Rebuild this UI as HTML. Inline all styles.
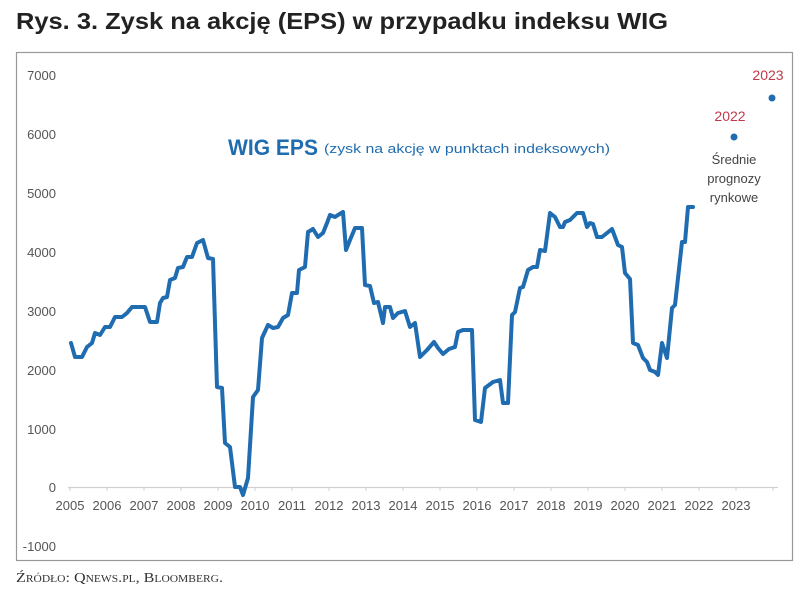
<!DOCTYPE html>
<html><head><meta charset="utf-8"><style>
body{margin:0;background:#fff;}
svg{display:block;}
</style></head><body>
<svg width="803" height="593" viewBox="0 0 803 593" xmlns="http://www.w3.org/2000/svg">
<text x="16" y="29" font-family="Liberation Sans, sans-serif" font-weight="bold" font-size="23" fill="#222" textLength="652" lengthAdjust="spacingAndGlyphs">Rys. 3. Zysk na akcję (EPS) w przypadku indeksu WIG</text>
<rect x="16.5" y="52.5" width="776" height="508" fill="#fff" stroke="#999" stroke-width="1.2"/>
<g font-family="Liberation Sans, sans-serif" font-size="13" fill="#555" text-anchor="end">
<text x="56" y="80">7000</text>
<text x="56" y="139">6000</text>
<text x="56" y="198">5000</text>
<text x="56" y="257">4000</text>
<text x="56" y="316">3000</text>
<text x="56" y="375">2000</text>
<text x="56" y="434">1000</text>
<text x="56" y="492">0</text>
<text x="56" y="551">-1000</text>
</g>
<line x1="68" y1="487.5" x2="778" y2="487.5" stroke="#d0d0d0" stroke-width="1.2"/>
<g stroke="#d0d0d0" stroke-width="1">
<line x1="70" y1="487" x2="70" y2="491"/><line x1="107" y1="487" x2="107" y2="491"/><line x1="144" y1="487" x2="144" y2="491"/><line x1="181" y1="487" x2="181" y2="491"/><line x1="218" y1="487" x2="218" y2="491"/><line x1="255" y1="487" x2="255" y2="491"/><line x1="292" y1="487" x2="292" y2="491"/><line x1="329" y1="487" x2="329" y2="491"/><line x1="366" y1="487" x2="366" y2="491"/><line x1="403" y1="487" x2="403" y2="491"/><line x1="440" y1="487" x2="440" y2="491"/><line x1="477" y1="487" x2="477" y2="491"/><line x1="514" y1="487" x2="514" y2="491"/><line x1="551" y1="487" x2="551" y2="491"/><line x1="588" y1="487" x2="588" y2="491"/><line x1="625" y1="487" x2="625" y2="491"/><line x1="662" y1="487" x2="662" y2="491"/><line x1="699" y1="487" x2="699" y2="491"/><line x1="736" y1="487" x2="736" y2="491"/><line x1="773" y1="487" x2="773" y2="491"/>
</g>
<g font-family="Liberation Sans, sans-serif" font-size="13" fill="#555" text-anchor="middle">
<text x="70" y="510">2005</text><text x="107" y="510">2006</text><text x="144" y="510">2007</text><text x="181" y="510">2008</text><text x="218" y="510">2009</text><text x="255" y="510">2010</text><text x="292" y="510">2011</text><text x="329" y="510">2012</text><text x="366" y="510">2013</text><text x="403" y="510">2014</text><text x="440" y="510">2015</text><text x="477" y="510">2016</text><text x="514" y="510">2017</text><text x="551" y="510">2018</text><text x="588" y="510">2019</text><text x="625" y="510">2020</text><text x="662" y="510">2021</text><text x="699" y="510">2022</text><text x="736" y="510">2023</text>
</g>
<polyline fill="none" stroke="#1f6cb0" stroke-width="4" stroke-linejoin="round" stroke-linecap="round" points="71,343 75,357 82,357 87,347 92,343 95,333 100,335 105,327 110,327 115,317 122,317 127,313 132,307 138,307 145,307 150,322 157,322 160,303 163,298 167,297 170,280 175,278 178,268 183,267 187,257 192,257 197,243 203,240 208,258 213,259 217,387 222,388 225,443 230,447 235,487 240,487 243,495 248,478 253,397 258,390 262,338 268,325 273,328 278,327 283,318 288,315 292,293 297,293 299,270 305,267 308,232 313,229 318,237 323,233 327,223 330,215 335,217 338,215 343,212 346,250 350,240 355,228 362,228 365,285 370,286 374,303 378,302 383,323 385,307 390,307 393,318 398,313 405,311 410,327 415,323 420,357 427,350 434,342 438,348 443,354 449,349 455,347 458,332 463,330 472,330 475,420 481,422 485,388 493,382 500,380 503,403 508,403 512,315 515,312 520,288 523,287 528,270 533,267 537,267 540,250 545,251 550,213 555,217 560,227 563,227 565,222 570,220 577,213 583,213 587,227 590,223 593,224 597,237 602,237 607,233 612,229 615,237 618,245 622,247 625,273 630,279 633,343 638,345 643,358 647,362 650,370 655,372 658,375 662,343 667,358 672,308 675,305 682,242 685,242 688,207 693,207"/>
<circle cx="734" cy="137" r="3.5" fill="#1f6cb0"/>
<circle cx="772" cy="98" r="3.5" fill="#1f6cb0"/>
<g font-family="Liberation Sans, sans-serif" font-size="14" fill="#c0394b" text-anchor="middle">
<text x="768" y="80">2023</text>
<text x="730" y="121">2022</text>
</g>
<g font-family="Liberation Sans, sans-serif" font-size="13" fill="#444" text-anchor="middle">
<text x="734" y="164">Średnie</text>
<text x="734" y="183">prognozy</text>
<text x="734" y="202">rynkowe</text>
</g>
<text x="228" y="155" font-family="Liberation Sans, sans-serif" font-weight="bold" font-size="22" fill="#1f6cb0" textLength="90" lengthAdjust="spacingAndGlyphs">WIG EPS</text>
<text x="324" y="153" font-family="Liberation Sans, sans-serif" font-size="13" fill="#1f6cb0" textLength="286" lengthAdjust="spacingAndGlyphs">(zysk na akcję w punktach indeksowych)</text>
<text x="16" y="582" font-family="Liberation Serif, serif" font-size="14" fill="#333" style="font-variant:small-caps" textLength="207" lengthAdjust="spacingAndGlyphs">Źródło: Qnews.pl, Bloomberg.</text>
</svg>
</body></html>
